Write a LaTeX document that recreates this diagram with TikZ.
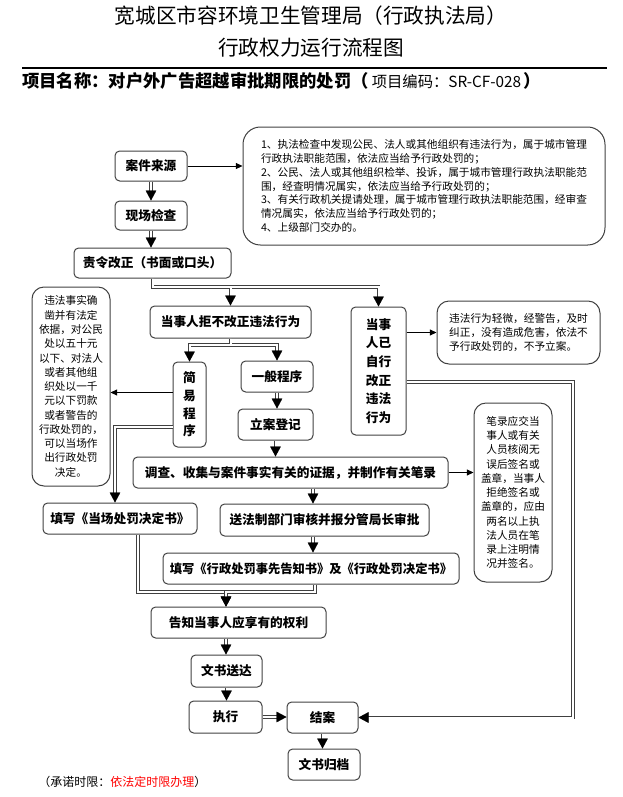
\documentclass[tikz,border=0pt]{standalone}
\usepackage{fontspec}
\setmainfont{Noto Sans CJK SC}
\usetikzlibrary{arrows.meta,calc}
\begin{document}
\begin{tikzpicture}[x=0.75pt,y=-0.75pt,
  box/.style={draw=black!75, line width=0.75pt, rounded corners=3.5pt, inner sep=0pt,
    font=\fontsize{9.5}{12}\selectfont\bfseries, align=center},
  note/.style={draw=black!75, line width=0.75pt, inner sep=0pt, rounded corners=9pt,
    font=\fontsize{8}{10.7}\selectfont, align=center},
  flow/.style={draw=white, line width=0.2pt,
    -{Triangle[length=7.5pt,width=8pt,color=black,fill=black]},
    preaction={draw=black!75, double=white, double distance=1.5pt, line width=0.6pt, shorten >=7pt, -}},
  link/.style={draw=black, line width=0.5pt, -{Triangle[length=5pt,width=4.5pt]}}
]
\useasboundingbox (0,0) rectangle (623,797);

% titles
\node[font=\fontsize{15.5}{18}\selectfont] (t1) at (311,16) {宽城区市容环境卫生管理局（行政执法局）};
\node[font=\fontsize{15.5}{18}\selectfont] (t2) at (311,48) {行政权力运行流程图};
\coordinate (la1) at (22,68);
\coordinate (la2) at (607,68);
\draw[line width=0.8pt] (la1) -- (la2);
\node[anchor=west, inner sep=0pt] (pj) at (22,81) {\fontsize{13}{15}\selectfont\bfseries 项目名称：对户外广告超越审批期限的处罚（\,\mdseries\fontsize{11.5}{15}\selectfont 项目编码：SR-CF-028\,\bfseries\fontsize{13}{15}\selectfont ）};

% boxes
\node[box, minimum width=54pt, minimum height=22.5pt] (src) at (151,166) {案件来源};
\node[box, minimum width=54pt, minimum height=21.75pt] (chk) at (151,215.5) {现场检查};
\node[box, minimum width=117.75pt, minimum height=22.5pt] (zl) at (152.5,263) {责令改正（书面或口头）};
\node[box, minimum width=120.75pt, minimum height=24pt] (jb) at (230.5,322) {当事人拒不改正违法行为};
\node[box, minimum width=41.25pt, minimum height=96pt, font=\fontsize{9.5}{14}\selectfont\bfseries] (yg) at (378.5,371) {当事\\人已\\自行\\改正\\违法\\行为};
\node[box, minimum width=24.75pt, minimum height=63.75pt, font=\fontsize{9.5}{13.2}\selectfont\bfseries] (jy) at (189.5,404.5) {简\\易\\程\\序};
\node[box, minimum width=54pt, minimum height=23.25pt] (yb) at (277,376.5) {一般程序};
\node[box, minimum width=56.25pt, minimum height=23.25pt] (la) at (275.5,424.5) {立案登记};
\node[box, minimum width=236.25pt, minimum height=23.25pt] (dc) at (290.5,472.5) {调查、收集与案件事实有关的证据，并制作有关笔录};
\node[box, minimum width=115.5pt, minimum height=23.25pt] (dcs) at (120,518.5) {填写《当场处罚决定书》};
\node[box, minimum width=156.75pt, minimum height=24pt] (sf) at (324.5,520) {送法制部门审核并报分管局长审批};
\node[box, minimum width=222pt, minimum height=23.25pt, font=\fontsize{9.2}{12}\selectfont\bfseries] (tx) at (311,568.5) {填写《行政处罚事先告知书》及《行政处罚决定书》};
\node[box, minimum width=131.25pt, minimum height=23.25pt] (gz) at (238.5,622.5) {告知当事人应享有的权利};
\node[box, minimum width=53.25pt, minimum height=24pt] (ws) at (226.5,671) {文书送达};
\node[box, minimum width=54.75pt, minimum height=24pt] (zx) at (225.5,717) {执行};
\node[box, minimum width=53.25pt, minimum height=23.25pt] (ja) at (322.5,717.5) {结案};
\node[box, minimum width=54pt, minimum height=23.25pt] (gd) at (324,764.5) {文书归档};

% notes
\node[note, rounded corners=13pt, align=left, minimum width=271.5pt, minimum height=88.5pt, font=\fontsize{8}{10.35}\selectfont] (c1) at (424,186) {1、执法检查中发现公民、法人或其他组织有违法行为，属于城市管理\\行政执法职能范围，依法应当给予行政处罚的；\\2、公民、法人或其他组织检举、投诉，属于城市管理行政执法职能范\\围，经查明情况属实，依法应当给予行政处罚的；\\3、有关行政机关提请处理，属于城市管理行政执法职能范围，经审查\\情况属实，依法应当给予行政处罚的；\\4、上级部门交办的。};
\node[note, align=left, minimum width=122.25pt, minimum height=47.25pt] (c2) at (518.5,332.5) {违法行为轻微，经警告，及时\\纠正，没有造成危害，依法不\\予行政处罚的，不予立案。};
\node[note, minimum width=58.5pt, minimum height=149.25pt] (c3) at (71,386.5) {违法事实确\\凿并有法定\\依据，对公民\\处以五十元\\以下、对法人\\或者其他组\\织处以一千\\元以下罚款\\或者警告的\\行政处罚的，\\可以当场作\\出行政处罚\\决定。};
\node[note, minimum width=58.5pt, minimum height=134.25pt] (c4) at (513,492.5) {笔录应交当\\事人或有关\\人员核阅无\\误后签名或\\盖章，当事人\\拒绝签名或\\盖章的，应由\\两名以上执\\法人员在笔\\录上注明情\\况并签名。};

% footer
\node[anchor=west, inner sep=0pt, font=\fontsize{9}{11}\selectfont] (ft) at (38,782) {（承诺时限：\textcolor{red}{依法定时限办理}）};

% helper coordinates
\coordinate (j1) at (152.5,287);
\coordinate (j2) at (230.5,345);
\coordinate (cx) at (313,0);
\coordinate (cx2) at (226,0);
\coordinate (cx3) at (315,0);
\coordinate (cx4) at (138,0);
\coordinate (cx5) at (573,0);
\coordinate (yl) at (0,592);
\coordinate (lx) at (115,0);

% connectors
\draw[flow] (src) -- (chk);
\draw[flow] (chk.south) -- (chk.south |- zl.north);
\draw[link] (src.east) -- (src.east -| c1.west);
\draw[flow] (zl.south) -- (j1) -| (yg.north);
\draw[flow] (zl.south) -- (j1) -| (jb.north);
\draw[flow] (jb.south) -- (j2) -| (yb.north);
\draw[flow] (jb.south) -- (j2) -| (jy.north);
\draw[flow] (yb.south) -- (yb.south |- la.north);
\draw[flow] (la.south) -- (la.south |- dc.north);
\draw[flow] (dc.south -| cx) -- (sf.north -| cx);
\draw[flow] (sf.south -| cx) -- (tx.north -| cx);
\draw[link] (dc.east) -- (dc.east -| c4.west);
\draw[link] (yg.east |- c2.west) -- (c2.west);
\draw[link] ([yshift=9pt]jy.west) -- ([yshift=9pt]jy.west -| c3.east);
\draw[flow] ([yshift=-17pt]jy.west) -| (dcs.north -| lx);
\draw[flow] (dcs.south -| cx4) |- (cx2 |- yl) -- (gz.north -| cx2);
\draw[flow] (tx.south -| cx3) |- (cx2 |- yl) -- (gz.north -| cx2);
\draw[flow] (gz.south -| cx2) -- (ws.north -| cx2);
\draw[flow] (ws.south) -- (ws.south |- zx.north);
\draw[flow] (zx.east) -- (zx.east -| ja.west);
\draw[flow] (ja.south) -- (ja.south |- gd.north);
\draw[flow] ([yshift=-8.25pt]yg.east) -| (cx5 |- ja.east) -- (ja.east);
\end{tikzpicture}
\end{document}
